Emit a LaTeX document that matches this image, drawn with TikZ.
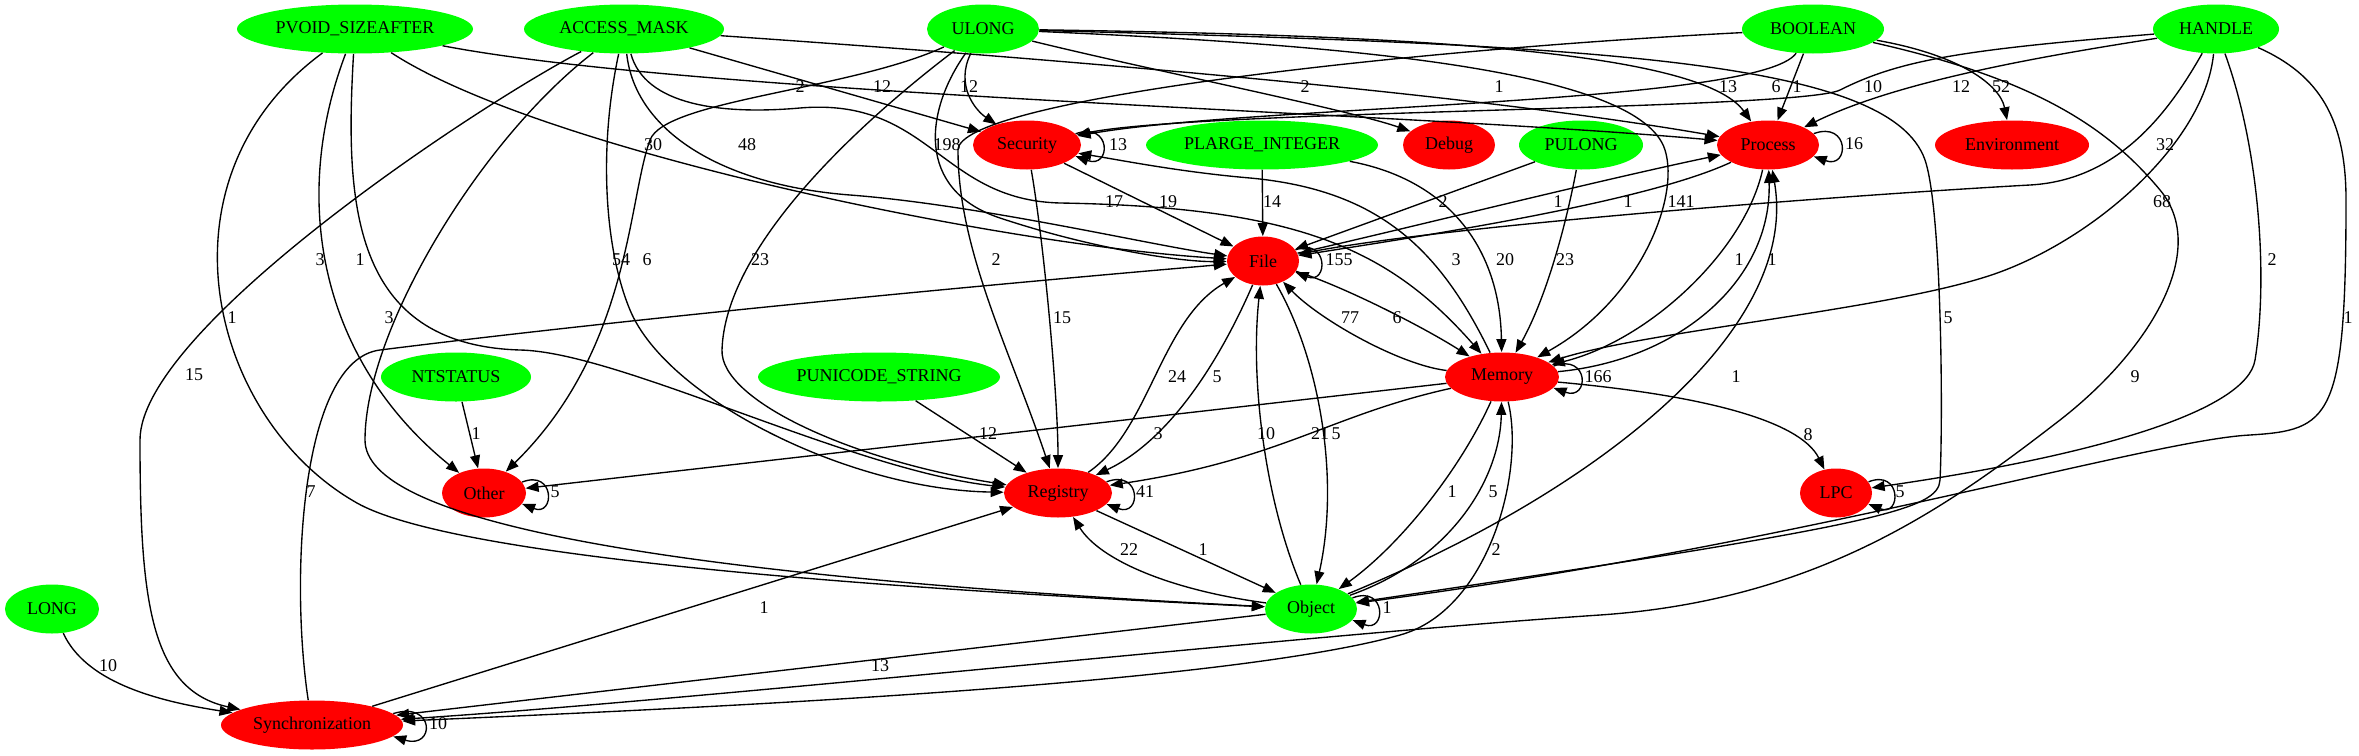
\documentclass[tikz,border=0pt]{standalone}
\usepackage{fontspec}
\setmainfont{Liberation Serif}
\usetikzlibrary{shapes.geometric,arrows.meta}
\definecolor{gvgreen}{RGB}{0,255,0}
\definecolor{gvred}{RGB}{255,0,0}
\tikzset{
  nd/.style={ellipse, inner sep=0pt, minimum height=24.5pt, font=\fontsize{9}{10}\selectfont},
  gn/.style={nd, fill=gvgreen},
  rn/.style={nd, fill=gvred},
  arr/.style={draw=black, line width=0.68pt, -{Triangle[length=6.5pt,width=5pt]}},
  lbl/.style={inner sep=0pt, font=\fontsize{9}{10}\selectfont},
}
\begin{document}
\begin{tikzpicture}[x=0.5pt,y=-0.5pt]
\fill[white] (0,0) rectangle (2359,755);
\useasboundingbox (0,0) rectangle (2359,755);
% nodes
\node[gn, minimum width=118pt] (PVOID) at (355,29) {PVOID\_SIZEAFTER};
\node[gn, minimum width=100pt] (ACCESS) at (624,29) {ACCESS\_MASK};
\node[gn, minimum width=56pt] (ULONG) at (983,29) {ULONG};
\node[gn, minimum width=71pt] (BOOLEAN) at (1813,29) {BOOLEAN};
\node[gn, minimum width=63pt] (HANDLE) at (2216,29) {HANDLE};
\node[rn, minimum width=54pt] (Security) at (1027,145) {Security};
\node[gn, minimum width=116pt] (PLARGE) at (1262,145) {PLARGE\_INTEGER};
\node[rn, minimum width=46pt] (Debug) at (1449,145) {Debug};
\node[gn, minimum width=62pt] (PULONG) at (1581,145) {PULONG};
\node[rn, minimum width=51pt] (Process) at (1768,145) {Process};
\node[rn, minimum width=77pt] (Environment) at (2012,145) {Environment};
\node[rn, minimum width=36pt] (File) at (1263,261) {File};
\node[gn, minimum width=75pt] (NTSTATUS) at (456,377) {NTSTATUS};
\node[gn, minimum width=121pt] (PUNICODE) at (879,377) {PUNICODE\_STRING};
\node[rn, minimum width=57pt] (Memory) at (1502,377) {Memory};
\node[rn, minimum width=42pt] (Other) at (484,493) {Other};
\node[rn, minimum width=54pt] (Registry) at (1058,493) {Registry};
\node[rn, minimum width=36pt] (LPC) at (1836,493) {LPC};
\node[gn, minimum width=47pt] (LONG) at (52,609) {LONG};
\node[gn, minimum width=46pt] (Object) at (1311,609) {Object};
\node[rn, minimum width=91pt] (Sync) at (312,725) {Synchronization};
% PVOID_SIZEAFTER
\draw[arr] (PVOID) .. controls (700,95) and (1400,112) .. (Process);
\draw[arr] (PVOID) .. controls (540,150) and (1000,245) .. (File);
\draw[arr] (PVOID) .. controls (290,200) and (320,360) .. (Other);
\draw[arr] (PVOID) .. controls (345,200) and (350,345) .. (520,350) .. controls (620,352) and (850,470) .. (Registry);
\draw[arr] (PVOID) .. controls (150,180) and (210,420) .. (357,503) .. controls (430,544) and (700,580) .. (Object);
% ACCESS_MASK
\draw[arr] (ACCESS) .. controls (470,110) and (140,330) .. (140,440) .. controls (140,600) and (150,690) .. (Sync);
\draw[arr] (ACCESS) .. controls (480,140) and (365,330) .. (365,440) .. controls (365,520) and (650,575) .. (Object);
\draw[arr] (ACCESS) .. controls (598,150) and (605,250) .. (630,310) .. controls (667,399) and (850,490) .. (Registry);
\draw[arr] (ACCESS) .. controls (635,130) and (720,185) .. (850,195) .. controls (980,205) and (1150,245) .. (File);
\draw[arr] (ACCESS) .. controls (645,105) and (720,115) .. (800,108) .. controls (930,97) and (940,200) .. (1060,203) .. controls (1300,207) and (1390,250) .. (Memory);
\draw[arr] (ACCESS) -- (Security);
\draw[arr] (ACCESS) .. controls (1000,55) and (1450,90) .. (Process);
% ULONG
\draw[arr] (ULONG) .. controls (955,85) and (975,110) .. (Security);
\draw[arr] (ULONG) .. controls (1150,70) and (1350,110) .. (Debug);
\draw[arr] (ULONG) .. controls (1400,35) and (1700,50) .. (Process);
\draw[arr] (ULONG) .. controls (1350,45) and (1640,70) .. (1665,150) .. controls (1680,198) and (1640,300) .. (Memory);
\draw[arr] (ULONG) .. controls (1600,45) and (1890,60) .. (1925,160) .. controls (1942,210) and (1943,420) .. (1940,480) .. controls (1938,510) and (1880,525) .. (Object);
\draw[arr] (ULONG) .. controls (850,130) and (725,250) .. (722,350) .. controls (720,400) and (850,460) .. (Registry);
\draw[arr] (ULONG) .. controls (850,90) and (665,100) .. (650,140) .. controls (628,200) and (630,350) .. (Other);
\draw[arr] (ULONG) .. controls (925,110) and (915,190) .. (1000,218) .. controls (1090,248) and (1180,262) .. (File);
% BOOLEAN
\draw[arr] (BOOLEAN) .. controls (1400,50) and (958,100) .. (958,150) .. controls (958,250) and (1010,350) .. (Registry);
\draw[arr] (BOOLEAN) .. controls (1760,105) and (1250,105) .. (Security);
\draw[arr] (BOOLEAN) -- (Process);
\draw[arr] (BOOLEAN) .. controls (1960,55) and (2000,85) .. (Environment);
\draw[arr] (BOOLEAN) .. controls (2040,80) and (2110,130) .. (2160,190) .. controls (2210,250) and (2150,350) .. (2060,420) .. controls (1950,505) and (1820,600) .. (1600,615) .. controls (1300,635) and (700,700) .. (Sync);
% HANDLE
\draw[arr] (HANDLE) .. controls (1960,50) and (1900,60) .. (1840,90) .. controls (1800,110) and (1200,110) .. (Security);
\draw[arr] (HANDLE) .. controls (2050,55) and (1900,80) .. (Process);
\draw[arr] (HANDLE) .. controls (2170,110) and (2120,180) .. (2030,185) .. controls (1850,195) and (1450,225) .. (File);
\draw[arr] (HANDLE) .. controls (2205,140) and (2100,235) .. (2000,272) .. controls (1900,309) and (1650,330) .. (Memory);
\draw[arr] (HANDLE) .. controls (2260,150) and (2268,280) .. (2255,360) .. controls (2247,410) and (2100,455) .. (LPC);
\draw[arr] (HANDLE) .. controls (2320,75) and (2346,120) .. (2346,200) .. controls (2346,420) and (2330,430) .. (2250,435) .. controls (2150,440) and (1800,545) .. (Object);
% Security, PLARGE_INTEGER, PULONG
\draw[arr] (Security) -- (File);
\draw[arr] (Security) .. controls (1045,250) and (1058,400) .. (Registry);
\draw[arr] (PLARGE) -- (File);
\draw[arr] (PLARGE) .. controls (1450,180) and (1500,250) .. (Memory);
\draw[arr] (PULONG) -- (File);
\draw[arr] (PULONG) .. controls (1565,230) and (1545,300) .. (Memory);
% File / Process / Memory
\draw[arr] (File) .. controls (1400,230) and (1600,180) .. (Process);
\draw[arr] (Process) .. controls (1650,200) and (1450,232) .. (File);
\draw[arr] (Process) .. controls (1745,250) and (1650,340) .. (Memory);
\draw[arr] (Memory) .. controls (1680,360) and (1772,280) .. (Process);
\draw[arr] (Object) .. controls (1600,490) and (1800,330) .. (Process);
\draw[arr] (Memory) .. controls (1440,250) and (1380,190) .. (1250,178) .. controls (1180,172) and (1120,160) .. (Security);
\draw[arr] (Memory) .. controls (1700,395) and (1800,420) .. (LPC);
\draw[arr] (Memory) -- (Other);
\draw[arr] (Memory) .. controls (1330,415) and (1280,460) .. (Registry);
\draw[arr] (Memory) .. controls (1460,470) and (1400,545) .. (Object);
\draw[arr] (Object) .. controls (1450,560) and (1500,480) .. (Memory);
\draw[arr] (Memory) .. controls (1525,470) and (1490,610) .. (1400,635) .. controls (1220,685) and (700,708) .. (Sync);
\draw[arr] (File) .. controls (1340,285) and (1420,325) .. (Memory);
\draw[arr] (Memory) .. controls (1400,365) and (1320,320) .. (File);
% Object / Registry
\draw[arr] (Object) -- (Sync);
\draw[arr] (Object) .. controls (1265,500) and (1250,380) .. (File);
\draw[arr] (File) .. controls (1320,360) and (1340,480) .. (Object);
\draw[arr] (Object) .. controls (1170,590) and (1100,560) .. (Registry);
\draw[arr] (Registry) -- (Object);
\draw[arr] (Registry) .. controls (1150,430) and (1160,320) .. (File);
\draw[arr] (File) .. controls (1220,360) and (1170,440) .. (Registry);
% Synchronization, LONG, NTSTATUS, PUNICODE_STRING
\draw[arr] (Sync) -- (Registry);
\draw[arr] (Sync) .. controls (290,580) and (300,360) .. (380,350) .. controls (700,310) and (1100,275) .. (File);
\draw[arr] (LONG) .. controls (85,680) and (150,700) .. (Sync);
\draw[arr] (NTSTATUS) -- (Other);
\draw[arr] (PUNICODE) -- (Registry);
% self loops
\draw[arr] (Security.13) .. controls +(36,-13) and +(36,13) .. (Security.-13);
\draw[arr] (File.19) .. controls +(33,-13) and +(33,13) .. (File.-19);
\draw[arr] (Process.14) .. controls +(36,-13) and +(36,13) .. (Process.-14);
\draw[arr] (Memory.12) .. controls +(36,-13) and +(36,13) .. (Memory.-12);
\draw[arr] (LPC.19) .. controls +(33,-13) and +(33,13) .. (LPC.-19);
\draw[arr] (Other.16) .. controls +(33,-13) and +(33,13) .. (Other.-16);
\draw[arr] (Registry.13) .. controls +(35,-13) and +(35,13) .. (Registry.-13);
\draw[arr] (Object.15) .. controls +(34,-13) and +(34,13) .. (Object.-15);
\draw[arr] (Sync.8) .. controls +(42,-13) and +(42,13) .. (Sync.-8);
% edge labels
\node[lbl] (l01) at (800,87) {2};
\node[lbl] (l02) at (882,87) {12};
\node[lbl] (l03) at (969,87) {12};
\node[lbl] (l04) at (1305,87) {2};
\node[lbl] (l05) at (1499,87) {1};
\node[lbl] (l06) at (1728,87) {13};
\node[lbl] (l07) at (1776,87) {6};
\node[lbl] (l08) at (1797,87) {1};
\node[lbl] (l09) at (1873,87) {10};
\node[lbl] (l10) at (1961,87) {12};
\node[lbl] (l11) at (2001,87) {52};
\node[lbl] (l12) at (653,145) {30};
\node[lbl] (l13) at (747,145) {48};
\node[lbl] (l14) at (947,145) {198};
\node[lbl] (l15) at (2165,145) {32};
\node[lbl] (l16) at (1114,202) {17};
\node[lbl] (l17) at (1168,202) {19};
\node[lbl] (l18) at (1272,202) {14};
\node[lbl] (l19) at (1443,202) {2};
\node[lbl] (l20) at (1558,202) {1};
\node[lbl] (l21) at (1628,202) {1};
\node[lbl] (l22) at (1681,202) {141};
\node[lbl] (l23) at (2162,202) {68};
\node[lbl] (l24) at (320,260) {3};
\node[lbl] (l25) at (360,260) {1};
\node[lbl] (l26) at (621,260) {54};
\node[lbl] (l27) at (647,260) {6};
\node[lbl] (l28) at (760,260) {23};
\node[lbl] (l29) at (996,260) {2};
\node[lbl] (l30) at (1456,260) {3};
\node[lbl] (l31) at (1505,260) {20};
\node[lbl] (l32) at (1565,260) {23};
\node[lbl] (l33) at (1739,260) {1};
\node[lbl] (l34) at (1772,260) {1};
\node[lbl] (l35) at (2272,260) {2};
\node[lbl] (l36) at (232,318) {1};
\node[lbl] (l37) at (389,318) {3};
\node[lbl] (l38) at (1062,318) {15};
\node[lbl] (l39) at (1350,318) {77};
\node[lbl] (l40) at (1397,318) {6};
\node[lbl] (l41) at (1948,318) {5};
\node[lbl] (l42) at (2348,318) {1};
\node[lbl] (l43) at (194,375) {15};
\node[lbl] (l44) at (1177,377) {24};
\node[lbl] (l45) at (1217,377) {5};
\node[lbl] (l46) at (1736,377) {1};
\node[lbl] (l47) at (2135,377) {9};
\node[lbl] (l48) at (476,434) {1};
\node[lbl] (l49) at (988,434) {12};
\node[lbl] (l50) at (1158,434) {3};
\node[lbl] (l51) at (1266,434) {10};
\node[lbl] (l52) at (1320,434) {21};
\node[lbl] (l53) at (1336,434) {5};
\node[lbl] (l54) at (1808,435) {8};
\node[lbl] (l55) at (311,492) {7};
\node[lbl] (l56) at (1452,492) {1};
\node[lbl] (l57) at (1493,492) {5};
\node[lbl] (l58) at (1129,550) {22};
\node[lbl] (l59) at (1203,550) {1};
\node[lbl] (l60) at (1496,550) {2};
\node[lbl] (l61) at (764,608) {1};
\node[lbl] (l62) at (108,666) {10};
\node[lbl] (l63) at (880,666) {13};
\node[lbl] (l64) at (1118,145) {13};
\node[lbl] (l65) at (1339,260) {155};
\node[lbl] (l66) at (1854,144) {16};
\node[lbl] (l67) at (1598,377) {166};
\node[lbl] (l68) at (1900,492) {5};
\node[lbl] (l69) at (555,492) {5};
\node[lbl] (l70) at (1145,492) {41};
\node[lbl] (l71) at (1387,608) {1};
\node[lbl] (l72) at (438,724) {10};
\end{tikzpicture}
\end{document}
